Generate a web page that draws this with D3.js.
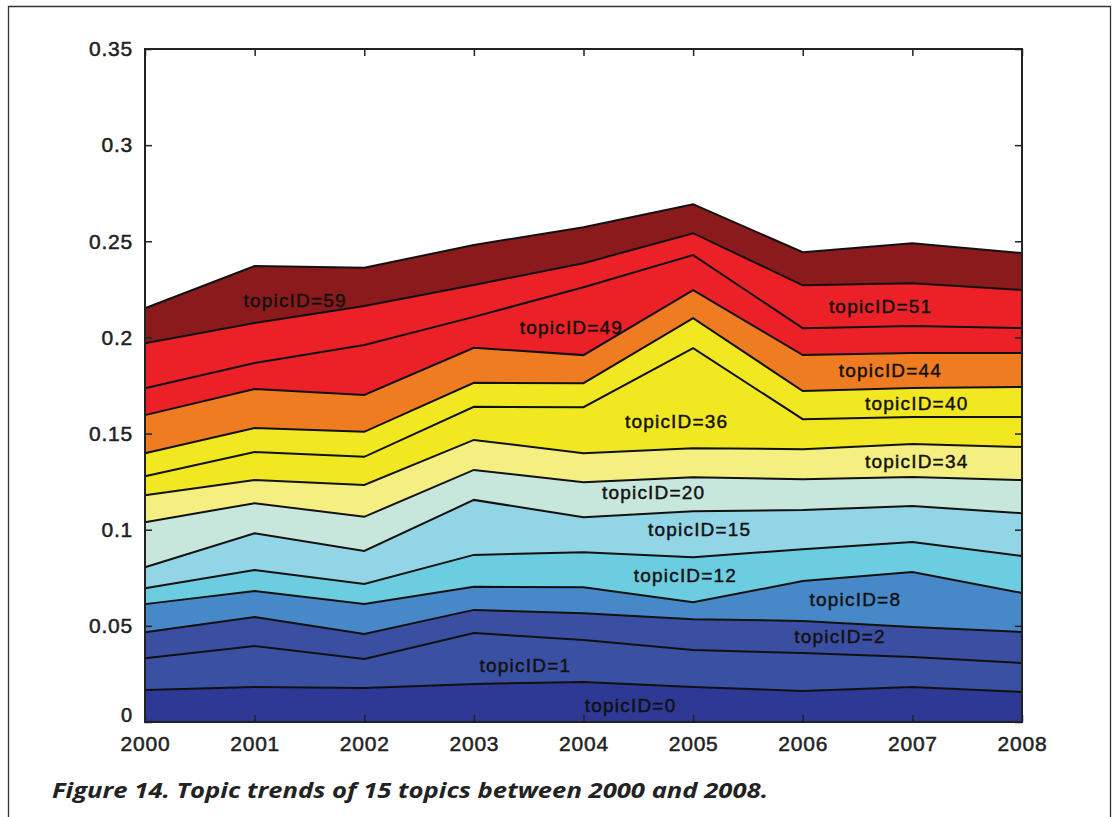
<!DOCTYPE html>
<html><head><meta charset="utf-8">
<script src="https://cdn.jsdelivr.net/npm/d3@7/dist/d3.min.js"></script>
<style>body{margin:0;background:#fff;} svg{display:block;}</style>
</head><body><svg id="c" width="1117" height="817"></svg>
<script>
const years = [2000, 2001, 2002, 2003, 2004, 2005, 2006, 2007, 2008];
const topicIDs = [0, 1, 2, 8, 12, 15, 20, 34, 36, 40, 44, 49, 51, 59];
// layer thickness per year (stacked bottom to top)
const topic0  = [0.0166, 0.0182, 0.0177, 0.0198, 0.0208, 0.0182, 0.0161, 0.0182, 0.0156];
const topic1  = [0.0166, 0.0213, 0.0151, 0.0265, 0.0218, 0.0192, 0.0198, 0.0156, 0.0151];
const topic2  = [0.0135, 0.0151, 0.0130, 0.0120, 0.0140, 0.0161, 0.0166, 0.0156, 0.0161];
const topic8  = [0.0146, 0.0135, 0.0156, 0.0120, 0.0135, 0.0088, 0.0208, 0.0286, 0.0203];
const topic12 = [0.0083, 0.0109, 0.0104, 0.0166, 0.0182, 0.0234, 0.0166, 0.0156, 0.0192];
const topic15 = [0.0109, 0.0192, 0.0172, 0.0286, 0.0182, 0.0239, 0.0203, 0.0187, 0.0223];
const topic20 = [0.0234, 0.0156, 0.0177, 0.0156, 0.0182, 0.0177, 0.0161, 0.0151, 0.0172];
const topic34 = [0.0140, 0.0120, 0.0166, 0.0156, 0.0151, 0.0151, 0.0156, 0.0172, 0.0172];
const topic36 = [0.0099, 0.0146, 0.0146, 0.0172, 0.0239, 0.0520, 0.0156, 0.0140, 0.0156];
const topic40 = [0.0120, 0.0125, 0.0130, 0.0125, 0.0125, 0.0156, 0.0146, 0.0151, 0.0156];
const topic44 = [0.0198, 0.0203, 0.0192, 0.0182, 0.0146, 0.0146, 0.0187, 0.0182, 0.0177];
const topic49 = [0.0140, 0.0135, 0.0260, 0.0161, 0.0353, 0.0182, 0.0140, 0.0140, 0.0130];
const topic51 = [0.0234, 0.0208, 0.0203, 0.0166, 0.0125, 0.0114, 0.0223, 0.0223, 0.0198];
const topic59 = [0.0182, 0.0296, 0.0198, 0.0208, 0.0187, 0.0151, 0.0172, 0.0208, 0.0192];
const layerColors = ["#2d3995", "#3a51a3", "#3a4fa1", "#4788c9", "#6ccde0", "#92d5e6", "#c7e7dd",
                     "#f5ee80", "#f2e822", "#f2e822", "#f07c22", "#ec2128", "#ec2128", "#8b1a1c"];
const yTicks = [0, 0.05, 0.1, 0.15, 0.2, 0.25, 0.3, 0.35];
const yTickLabels = ["0", "0.05", "0.1", "0.15", "0.2", "0.25", "0.3", "0.35"];
// in-chart labels: text, year position, value position
const labelTexts  = ["topicID=59", "topicID=49", "topicID=51", "topicID=44", "topicID=40", "topicID=36", "topicID=34",
                     "topicID=20", "topicID=15", "topicID=12", "topicID=8", "topicID=2", "topicID=1", "topicID=0"];
const labelYears  = [2001.37, 2003.89, 2006.71, 2006.80, 2007.04, 2004.85, 2007.04,
                     2004.64, 2005.06, 2004.93, 2006.48, 2006.34, 2003.47, 2004.43];
const labelValues = [0.2193, 0.2053, 0.2162, 0.1830, 0.1658, 0.1564, 0.1357,
                     0.1195, 0.1003, 0.0764, 0.0639, 0.0447, 0.0296, 0.0088];
const caption = "Figure 14. Topic trends of 15 topics between 2000 and 2008.";

const series = [topic0, topic1, topic2, topic8, topic12, topic15, topic20, topic34, topic36, topic40, topic44, topic49, topic51, topic59];
const keys = topicIDs.map(id => "t" + id);
const rows = years.map((yr, i) => {
  const r = {year: yr};
  keys.forEach((k, j) => r[k] = series[j][i]);
  return r;
});

const svg = d3.select("#c");
const L = 145, R = 1022, T = 49, B = 722;
const x = d3.scaleLinear().domain([2000, 2008]).range([L, R]);
const y = d3.scaleLinear().domain([0, 0.35]).range([B, T]);

// outer frame
svg.append("path").attr("d", "M8.5,817 V6.5 H1110.5 V817").attr("fill", "none").attr("stroke", "#333").attr("stroke-width", 1.3);

const stacked = d3.stack().keys(keys)(rows);
const area = d3.area().x(d => x(d.data.year)).y0(d => y(d[0])).y1(d => y(d[1]));
const line = d3.line().x(d => x(d.data.year)).y(d => y(d[1]));

svg.append("g").selectAll("path").data(stacked).join("path")
  .attr("d", area).attr("fill", (d, i) => layerColors[i]).attr("stroke", "none");
svg.append("g").selectAll("path").data(stacked).join("path")
  .attr("d", line).attr("fill", "none").attr("stroke", "#111").attr("stroke-width", 2);

// axes
const tickFont = "'Liberation Sans', Arial, sans-serif";
const gy = svg.append("g").attr("transform", `translate(${L},0)`)
  .call(d3.axisLeft(y).tickValues(yTicks).tickFormat((d, i) => yTickLabels[i]).tickSizeInner(-7).tickSizeOuter(0).tickPadding(12));
const gyr = svg.append("g").attr("transform", `translate(${R},0)`)
  .call(d3.axisRight(y).tickValues(yTicks).tickFormat("").tickSizeInner(-7).tickSizeOuter(0));
const gx = svg.append("g").attr("transform", `translate(0,${B})`)
  .call(d3.axisBottom(x).tickValues(years).tickFormat(d3.format("d")).tickSizeInner(-7).tickSizeOuter(0).tickPadding(14));
const gxt = svg.append("g").attr("transform", `translate(0,${T})`)
  .call(d3.axisTop(x).tickValues(years).tickFormat("").tickSizeInner(-7).tickSizeOuter(0));
[gy, gyr, gx, gxt].forEach(g => {
  g.select(".domain").remove();
  g.selectAll(".tick line").attr("stroke", "#222").attr("stroke-width", 1.5);
  g.selectAll("text").attr("fill", "#222").attr("stroke", "#222").attr("stroke-width", 0.5)
    .style("font-family", tickFont).style("font-size", "21px").style("letter-spacing", "0.8px");
});
// the "0" label sits just above the "2000" label, as in the original
gy.selectAll(".tick text").filter(d => d === 0).attr("dy", "-0.05em").style("font-size", "20px");

svg.append("rect").attr("x", L).attr("y", T).attr("width", R - L).attr("height", B - T)
  .attr("fill", "none").attr("stroke", "#222").attr("stroke-width", 2);

// in-chart labels
svg.append("g").selectAll("text").data(labelTexts).join("text")
  .attr("x", (d, i) => x(labelYears[i])).attr("y", (d, i) => y(labelValues[i]))
  .attr("text-anchor", "middle").attr("dominant-baseline", "central")
  .style("font-family", tickFont).style("font-size", "19px").style("letter-spacing", "1.2px")
  .attr("fill", "#111").attr("stroke", "#111").attr("stroke-width", 0.45).text(d => d);

// caption
svg.append("text").attr("x", 52).attr("y", 798)
  .attr("textLength", 716).attr("lengthAdjust", "spacingAndGlyphs")
  .style("font-family", "'Open Sans', sans-serif").style("font-weight", "bold").style("font-style", "italic")
  .style("font-size", "22px").attr("fill", "#222").text(caption);
</script></body></html>
